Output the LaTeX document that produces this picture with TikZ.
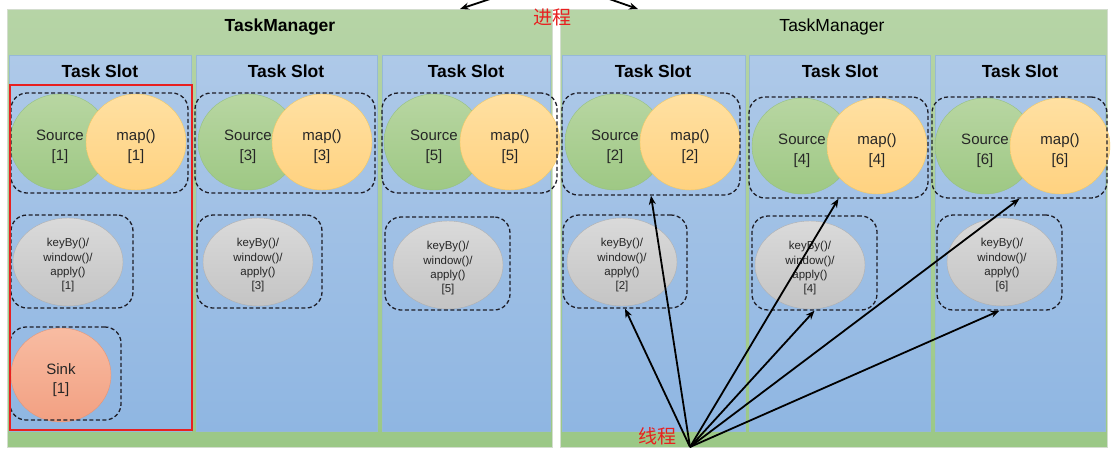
\documentclass[tikz,border=0pt]{standalone}
\usepackage{fontspec}
\setmainfont{Liberation Sans}
\newfontfamily\cjk{Noto Sans CJK SC}
\usetikzlibrary{shapes.geometric,arrows.meta,calc}
\definecolor{tmtop}{RGB}{182,212,166}
\definecolor{tmbot}{RGB}{155,200,134}
\definecolor{sltop}{RGB}{174,201,232}
\definecolor{slbot}{RGB}{143,182,226}
\definecolor{sledge}{RGB}{150,185,215}
\definecolor{srctop}{RGB}{184,214,162}
\definecolor{srcbot}{RGB}{158,200,132}
\definecolor{srcedge}{RGB}{150,192,128}
\definecolor{maptop}{RGB}{255,224,162}
\definecolor{mapbot}{RGB}{255,210,128}
\definecolor{mapedge}{RGB}{240,200,100}
\definecolor{graytop}{RGB}{218,218,218}
\definecolor{graybot}{RGB}{196,196,196}
\definecolor{sinktop}{RGB}{248,188,162}
\definecolor{sinkbot}{RGB}{242,160,130}
\definecolor{sinkedge}{RGB}{228,150,120}
\definecolor{redline}{RGB}{232,32,32}
\definecolor{dashc}{RGB}{30,30,40}
\newcommand{\lowA}{\rule{0pt}{21pt}}
\newcommand{\lowB}{\rule{0pt}{15pt}}
\tikzset{
  tmbox/.style={top color=tmtop,bottom color=tmbot,draw=tmtop!80!black!40,line width=0.4pt},
  slotbox/.style={top color=sltop,bottom color=slbot,draw=sledge,line width=0.6pt},
  src/.style={ellipse,minimum width=100pt,minimum height=96pt,inner sep=0pt,top color=srctop,bottom color=srcbot,draw=srcedge,align=center,font=\fontsize{15}{20}\selectfont,text=black!85},
  mapn/.style={ellipse,minimum width=100pt,minimum height=96pt,inner sep=0pt,top color=maptop,bottom color=mapbot,draw=mapedge,align=center,font=\fontsize{15}{20}\selectfont,text=black!85},
  kw/.style={ellipse,minimum width=110pt,minimum height=88pt,inner sep=0pt,top color=graytop,bottom color=graybot,draw=graybot!90!black,align=center,font=\fontsize{11.5}{14.3}\selectfont,text=black!85},
  sinkn/.style={ellipse,minimum width=100pt,minimum height=94pt,inner sep=0pt,top color=sinktop,bottom color=sinkbot,draw=sinkedge,align=center,font=\fontsize{15}{19}\selectfont,text=black!85},
  grp/.style={draw=dashc,dashed,dash pattern=on 4pt off 2.5pt,line width=1.3pt,rounded corners=16pt,inner sep=0pt},
  slottitle/.style={font=\fontsize{17.5}{20}\selectfont\bfseries},
  arr/.style={-{Stealth[length=9pt,width=7pt]},line width=1.8pt,black},
  redlabel/.style={text=redline,font=\cjk\fontsize{19}{22}\selectfont}
}
\begin{document}
\begin{tikzpicture}[x=1pt,y=-1pt]
\useasboundingbox (0,0) rectangle (1114,453);
\clip (0,0) rectangle (1114,453);
\fill[white] (0,0) rectangle (1114,453);
% Task managers
\node[tmbox,minimum width=545pt,minimum height=438pt,inner sep=0pt] (tm1) at (279.5,228) {};
\node[tmbox,minimum width=547pt,minimum height=438pt,inner sep=0pt] (tm2) at (833.5,228) {};
\node[font=\fontsize{17.5}{20}\selectfont\bfseries] (tm1t) at (280,27) {TaskManager};
\node[font=\fontsize{17.5}{20}\selectfont] (tm2t) at (832,27) {TaskManager};
% slots
\foreach \nm/\xa/\xb in {s1/9/191,s2/196/377,s3/382/550,s4/562/745,s5/749/930,s6/935/1105}{
  \path[slotbox] (\xa,55) rectangle (\xb,431);
}
\foreach \nm/\xc in {t1/100,t2/286,t3/466,t4/653,t5/840,t6/1020}{
  \node[slottitle] (\nm) at (\xc,71) {Task Slot};
}
% operator ellipses
\foreach \i/\sx/\mx/\yy in {1/60/136/142,3/248/322/142,5/434/510/142,2/615/690/142,4/802/877/146,6/985/1060/146}{
  \node[src] (src\i) at (\sx,\yy) {\lowA Source\\{}[\i]};
  \node[mapn] (map\i) at (\mx,\yy) {\lowA map()\\{}[\i]};
}
\foreach \i/\kx/\ky in {1/68/262,3/258/262,5/448/265,2/622/262,4/810/265,6/1002/262}{
  \node[kw] (kw\i) at (\kx,\ky) {\lowB keyBy()/\\window()/\\apply()\\{}[\i]};
}
\node[sinkn] (sink1) at (61,375) {\lowA Sink\\{}[1]};
% dashed groups
\foreach \nm/\xa/\ya/\xb/\yb in {g1/11/93/188/193,g3/195/93/375/193,g5/382/93/557/193,g2/562/93/740/195,g4/749/97/928/198,g6/932/97/1107/198,
  k1/11/215/133/308,k3/197/215/322/308,k5/385/217/510/310,k2/563/215/687/308,k4/752/216/877/310,k6/937/215/1062/310,sg1/10/327/121/420}{
  \node[grp,minimum width=\xb pt-\xa pt,minimum height=\yb pt-\ya pt] (\nm) at ({(\xa+\xb)/2},{(\ya+\yb)/2}) {};
}
% red frame
\node[draw=redline,line width=1.6pt,minimum width=182pt,minimum height=345pt,inner sep=0pt] (red) at (101,257.5) {};
% process label and arrows
\node[redlabel] (proc) at (552,17) {进程};
\coordinate (pa) at (505,-6);
\coordinate (pb) at (595,-6);
\coordinate (pl) at (460,9);
\coordinate (pr) at (638,9);
\draw[arr] (pa) -- (pl);
\draw[arr] (pb) -- (pr);
% thread label and arrows
\coordinate (th) at (690,447);
\node[redlabel] (thr) at (657,436) {线程};
\foreach \t in {k2,g2,k4,g4,k6,g6}{
  \draw[arr] (th) -- (\t.south);
}
\end{tikzpicture}
\end{document}
